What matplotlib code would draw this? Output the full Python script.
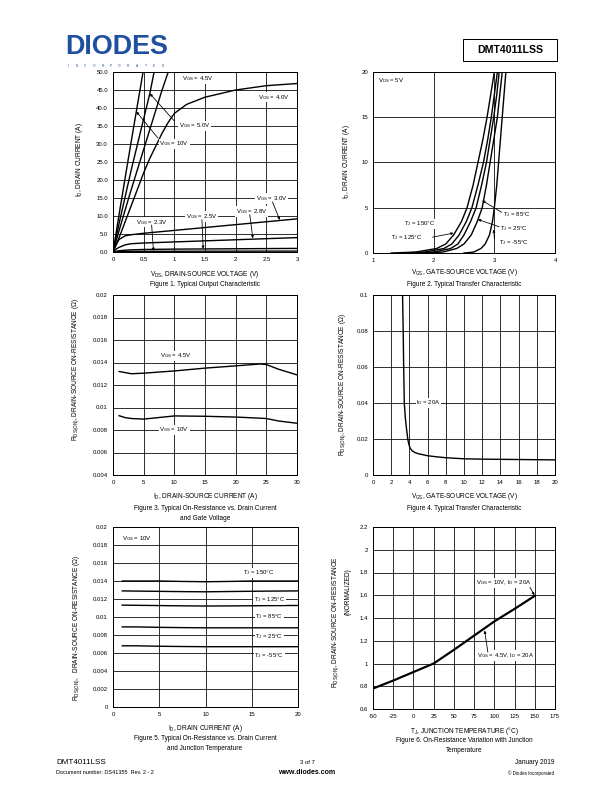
import numpy as np
import matplotlib
matplotlib.use('Agg')
from matplotlib import pyplot as plt

plt.rcParams['font.family'] = ['Liberation Sans', 'DejaVu Sans']
plt.rcParams['mathtext.fontset'] = 'custom'
plt.rcParams['mathtext.rm'] = 'Liberation Sans'
plt.rcParams['mathtext.default'] = 'regular'

# figure 1 - output characteristic (VDS in V, ID in A)
vds_10v = [0, 0.1, 0.2, 0.3, 0.4, 0.49]
id_10v = [0, 10.5, 20.8, 31, 41, 50]
vds_5v = [0, 0.1, 0.2, 0.3, 0.4, 0.5, 0.6, 0.67]
id_5v = [0, 8, 15.5, 23, 30, 37, 44, 50]
vds_45v = [0, 0.1, 0.2, 0.3, 0.4, 0.5, 0.6, 0.7, 0.8, 0.9]
id_45v = [0, 6, 11.8, 17.5, 23, 28.5, 34, 39.5, 45, 50]
vds_4v = [0, 0.1, 0.2, 0.3, 0.4, 0.5, 0.6, 0.7, 0.8, 0.9, 1.0, 1.2, 1.5, 2.0, 2.5, 3.0]
id_4v = [0, 4, 8.5, 13, 17.5, 22, 26, 29.5, 33, 36, 38.5, 41, 43, 45, 46.2, 46.8]
vds_low = [0, 0.05, 0.1, 0.2, 0.3, 0.5, 1.0, 1.5, 2.0, 2.5, 3.0]
id_3v = [0, 2, 3.5, 4.5, 4.8, 5.2, 6.0, 6.8, 7.6, 8.4, 9.2]
id_28v = [0, 0.8, 1.3, 2.0, 2.3, 2.5, 2.8, 3.1, 3.4, 3.7, 4.0]
id_25v = [0, 0.2, 0.35, 0.5, 0.6, 0.7, 0.8, 0.85, 0.9, 0.95, 1.0]
id_23v = [0, 0.05, 0.1, 0.15, 0.17, 0.19, 0.2, 0.22, 0.23, 0.24, 0.25]

# figure 2 - transfer characteristic, VGS read at fixed ID levels
id_levels = [0, 0.1, 0.5, 1, 2, 3.5, 5, 7.5, 10, 12.5, 15, 17.5, 20]
vgs_150 = [1.3, 1.7, 2.05, 2.2, 2.33, 2.46, 2.55, 2.65, 2.73, 2.81, 2.88, 2.94, 3.0]
vgs_125 = [1.45, 1.85, 2.17, 2.3, 2.42, 2.54, 2.63, 2.73, 2.82, 2.89, 2.95, 3.0, 3.05]
vgs_85 = [1.6, 2.0, 2.28, 2.4, 2.5, 2.61, 2.7, 2.79, 2.87, 2.93, 2.99, 3.04, 3.08]
vgs_25 = [1.8, 2.15, 2.38, 2.5, 2.62, 2.72, 2.8, 2.87, 2.93, 2.99, 3.05, 3.09, 3.13]
vgs_m55 = [2.5, 2.66, 2.78, 2.85, 2.92, 2.97, 3.0, 3.04, 3.07, 3.1, 3.13, 3.16, 3.19]

# figure 3 - RDS(on) vs ID
id3 = [1, 2, 3, 5, 10, 15, 20, 24, 25, 27, 30]
r3_45v = [0.0132, 0.0131, 0.0130, 0.01305, 0.01325, 0.0135, 0.0137, 0.01387, 0.01382, 0.0134, 0.0129]
r3_10v = [0.00927, 0.0091, 0.00902, 0.00897, 0.00925, 0.00922, 0.00915, 0.00905, 0.00902, 0.0088, 0.0086]

# figure 4 - RDS(on) vs VGS
vgs4 = [3.25, 3.28, 3.32, 3.37, 3.44, 3.55, 3.65, 3.75, 3.82, 3.9, 4.0, 4.1, 4.3, 4.6,
        5.0, 6, 7, 8, 10, 12, 14, 16, 18, 20]
r4 = [0.1, 0.09, 0.08, 0.06, 0.04, 0.032, 0.027, 0.023, 0.02, 0.018, 0.016, 0.0148,
      0.0135, 0.0125, 0.0118, 0.0107, 0.0101, 0.0096, 0.0090, 0.0088, 0.0087, 0.0086,
      0.0085, 0.0084]

# figure 5 - RDS(on) vs ID at several TJ
id5 = [1, 2.5, 5, 7.5, 10, 12.5, 15, 17.5, 20]
r5_150 = [0.0140, 0.0140, 0.0140, 0.01395, 0.01392, 0.01395, 0.0140, 0.0140, 0.0140]
r5_125 = [0.0129, 0.01288, 0.01285, 0.01282, 0.0128, 0.01283, 0.01286, 0.01288, 0.0129]
r5_85 = [0.01132, 0.0113, 0.01127, 0.01124, 0.01122, 0.01123, 0.01125, 0.01127, 0.01128]
r5_25 = [0.0089, 0.0089, 0.00885, 0.00882, 0.0088, 0.0088, 0.0088, 0.0088, 0.0088]
r5_m55 = [0.0068, 0.0068, 0.00675, 0.00672, 0.0067, 0.0067, 0.0067, 0.0067, 0.0067]

# figure 6 - normalized RDS(on) vs TJ
tj6 = [-50, -25, 0, 25, 50, 75, 100, 125, 150]
rn6 = [0.78, 0.85, 0.925, 1.0, 1.12, 1.245, 1.37, 1.48, 1.595]

W, H = 612, 792
fig = plt.figure(figsize=(8.5, 11), dpi=72)


def make_ax(x0, y0, x1, y1):
    return fig.add_axes([x0 / W, 1 - y1 / H, (x1 - x0) / W, (y1 - y0) / H])


def ftext(x, y, s, **kw):
    kw.setdefault('fontsize', 6.5)
    kw.setdefault('ha', 'center')
    kw.setdefault('va', 'center')
    fig.text(x / W, 1 - y / H, s, **kw)


def style(ax, xt, xl, yt, yl):
    ax.set_xticks(xt)
    ax.set_xticklabels(xl)
    ax.set_yticks(yt)
    ax.set_yticklabels(yl)
    ax.set_xlim(xt[0], xt[-1])
    ax.set_ylim(yt[0], yt[-1])
    ax.grid(True, color='k', lw=0.8)
    ax.set_axisbelow(True)
    ax.tick_params(length=0, labelsize=6, pad=5)
    for s in ax.spines.values():
        s.set_linewidth(1.0)


def lab(ax, x, y, s, ha='center'):
    ax.text(x, y, s, fontsize=6, ha=ha, va='center', zorder=5,
            bbox=dict(fc='white', ec='none', pad=0.8))


def arrow(ax, start, tip):
    ax.annotate('', xy=tip, xytext=start, zorder=6,
                arrowprops=dict(arrowstyle='-|>', color='k', lw=0.8,
                                mutation_scale=5, shrinkA=0, shrinkB=0))


# ---- figure 1
ax1 = make_ax(113, 72, 297, 252)
style(ax1, [0, 0.5, 1, 1.5, 2, 2.5, 3], ['0', '0.5', '1', '1.5', '2', '2.5', '3'],
      np.arange(0, 51, 5), ['%.1f' % v for v in np.arange(0, 51, 5)])
for xs, ys in [(vds_10v, id_10v), (vds_5v, id_5v), (vds_45v, id_45v), (vds_4v, id_4v),
               (vds_low, id_3v), (vds_low, id_28v), (vds_low, id_25v), (vds_low, id_23v)]:
    ax1.plot(xs, ys, color='k', lw=1.4, zorder=3)
lab(ax1, 1.38, 48.2, 'V$_{GS}$ = 4.5V')
lab(ax1, 2.62, 43, 'V$_{GS}$ = 4.0V')
lab(ax1, 1.33, 35, 'V$_{GS}$ = 5.0V')
lab(ax1, 1.0, 30, 'V$_{GS}$ = 10V')
lab(ax1, 2.58, 14.8, 'V$_{GS}$ = 3.0V')
lab(ax1, 2.26, 11.3, 'V$_{GS}$ = 2.8V')
lab(ax1, 1.45, 9.8, 'V$_{GS}$ = 2.5V')
lab(ax1, 0.63, 8.3, 'V$_{GS}$ = 2.3V')
arrow(ax1, (1.0, 36.4), (0.6, 44))
arrow(ax1, (0.73, 31.7), (0.38, 39))
arrow(ax1, (2.6, 13.9), (2.72, 8.9))
arrow(ax1, (2.23, 10.4), (2.28, 3.8))
arrow(ax1, (1.45, 9.0), (1.47, 0.9))
arrow(ax1, (0.63, 7.5), (0.66, 0.3))
ftext(79, 160, 'I$_D$, DRAIN CURRENT (A)', rotation=90)
ftext(205, 275, 'V$_{DS}$, DRAIN-SOURCE VOLTAGE (V)')
ftext(205, 285, 'Figure 1. Typical Output Characteristic')

# ---- figure 2
ax2 = make_ax(373, 72, 555, 253)
style(ax2, [1, 2, 3, 4], ['1', '2', '3', '4'], [0, 5, 10, 15, 20], ['0', '5', '10', '15', '20'])
for vs in [vgs_150, vgs_125, vgs_85, vgs_25, vgs_m55]:
    ax2.plot(vs, id_levels, color='k', lw=1.4, zorder=3)
ax2.text(1.08, 19.0, 'V$_{DS}$ = 5V', fontsize=6, ha='left', va='center')
lab(ax2, 1.77, 3.2, 'T$_J$ = 150°C')
lab(ax2, 1.55, 1.66, 'T$_J$ = 125°C')
lab(ax2, 3.38, 4.2, 'T$_J$ = 85°C')
lab(ax2, 3.32, 2.65, 'T$_J$ = 25°C')
lab(ax2, 3.32, 1.2, 'T$_J$ = -55°C')
arrow(ax2, (1.98, 1.75), (2.33, 2.2))
arrow(ax2, (3.12, 4.5), (2.8, 5.8))
arrow(ax2, (3.08, 2.9), (2.73, 3.7))
arrow(ax2, (3.0, 1.6), (2.99, 2.6))
ftext(347, 162, 'I$_D$, DRAIN CURRENT (A)', rotation=90)
ftext(464, 272, 'V$_{GS}$, GATE-SOURCE VOLTAGE (V)')
ftext(464, 284, 'Figure 2. Typical Transfer Characteristic')

# ---- figure 3
ax3 = make_ax(113, 295, 297, 475)
style(ax3, [0, 5, 10, 15, 20, 25, 30], ['0', '5', '10', '15', '20', '25', '30'],
      np.arange(0.004, 0.0201, 0.002),
      ['0.004', '0.006', '0.008', '0.01', '0.012', '0.014', '0.016', '0.018', '0.02'])
ax3.plot(id3, r3_45v, color='k', lw=1.4, zorder=3)
ax3.plot(id3, r3_10v, color='k', lw=1.4, zorder=3)
lab(ax3, 10.2, 0.0146, 'V$_{GS}$ = 4.5V')
lab(ax3, 10.0, 0.008, 'V$_{GS}$ = 10V')
ftext(76, 370, 'R$_{DS(ON)}$, DRAIN-SOURCE ON-RESISTANCE (Ω)', rotation=90)
ftext(205, 497, 'I$_D$, DRAIN-SOURCE CURRENT (A)')
ftext(205, 508, 'Figure 3. Typical On-Resistance vs. Drain Current')
ftext(205, 518, 'and Gate Voltage')

# ---- figure 4
ax4 = make_ax(373, 295, 555, 475)
style(ax4, np.arange(0, 21, 2), [str(v) for v in range(0, 21, 2)],
      np.arange(0, 0.101, 0.02), ['0', '0.02', '0.04', '0.06', '0.08', '0.1'])
ax4.plot(vgs4, r4, color='k', lw=1.4, zorder=3)
lab(ax4, 6.1, 0.04, 'I$_D$ = 20A')
ftext(343, 385, 'R$_{DS(ON)}$, DRAIN-SOURCE ON-RESISTANCE (Ω)', rotation=90)
ftext(464, 497, 'V$_{GS}$, GATE-SOURCE VOLTAGE (V)')
ftext(464, 508, 'Figure 4. Typical Transfer Characteristic')

# ---- figure 5
ax5 = make_ax(113, 527, 298, 707)
style(ax5, [0, 5, 10, 15, 20], ['0', '5', '10', '15', '20'],
      np.arange(0, 0.0201, 0.002),
      ['0', '0.002', '0.004', '0.006', '0.008', '0.01', '0.012', '0.014', '0.016', '0.018', '0.02'])
for rs in [r5_150, r5_125, r5_85, r5_25, r5_m55]:
    ax5.plot(id5, rs, color='k', lw=1.4, zorder=3)
ax5.text(1.0, 0.0187, 'V$_{GS}$ = 10V', fontsize=6, ha='left', va='center', zorder=5,
         bbox=dict(fc='white', ec='none', pad=0.8))
lab(ax5, 15.7, 0.0149, 'T$_J$ = 150°C')
lab(ax5, 16.95, 0.0119, 'T$_J$ = 125°C')
lab(ax5, 16.9, 0.0100, 'T$_J$ = 85°C')
lab(ax5, 16.9, 0.0078, 'T$_J$ = 25°C')
lab(ax5, 16.9, 0.0057, 'T$_J$ = -55°C')
ftext(77, 628, 'R$_{DS(ON)}$,   DRAIN-SOURCE ON-RESISTANCE (Ω)', rotation=90)
ftext(205, 728, 'I$_D$, DRAIN CURRENT (A)')
ftext(205, 739, 'Figure 5. Typical On-Resistance vs. Drain Current')
ftext(205, 749, 'and Junction Temperature')

# ---- figure 6
ax6 = make_ax(373, 527, 555, 709)
style(ax6, np.arange(-50, 176, 25), [str(v) for v in range(-50, 176, 25)],
      np.arange(0.6, 2.21, 0.2), ['0.6', '0.8', '1', '1.2', '1.4', '1.6', '1.8', '2', '2.2'])
ax6.plot(tj6, rn6, color='k', lw=2.2, zorder=3)
lab(ax6, 112, 1.71, 'V$_{GS}$ = 10V, I$_D$ = 20A')
lab(ax6, 114, 1.07, 'V$_{GS}$ = 4.5V, I$_D$ = 20A')
arrow(ax6, (144, 1.67), (149.5, 1.6))
arrow(ax6, (92, 1.1), (88, 1.29))
ftext(336, 622, 'R$_{DS(ON)}$, DRAIN-SOURCE ON-RESISTANCE', rotation=90)
ftext(348, 592, '(NORMALIZED)', rotation=90)
ftext(464, 731, 'T$_J$, JUNCTION TEMPERATURE (°C)')
ftext(464, 741, 'Figure 6. On-Resistance Variation with Junction')
ftext(464, 750, 'Temperature')

# ---- header
ftext(65, 47, 'DIODES', fontsize=27, fontweight='bold', color='#1f4f9e', ha='left')
for i, ch in enumerate('INCORPORATED'):
    ftext(68 + i * 8.6, 66, ch, fontsize=3.2, color='#1f4f9e')
fig.patches.append(plt.Rectangle((463 / W, 1 - 61 / H), 94 / W, 22 / H, fill=False,
                                 ec='k', lw=1.0, transform=fig.transFigure))
ftext(510, 50, 'DMT4011LSS', fontsize=10.5, fontweight='bold')

# ---- footer
ftext(56, 763, 'DMT4011LSS', fontsize=8, ha='left')
ftext(56, 773, 'Document number: DS41355  Rev. 2 - 2', fontsize=5.5, ha='left')
ftext(307, 763, '3 of 7', fontsize=6)
ftext(307, 773, 'www.diodes.com', fontsize=7, fontweight='bold')
ftext(554, 763, 'January 2019', fontsize=6.5, ha='right')
ftext(554, 773, '© Diodes Incorporated', fontsize=4.5, ha='right')

fig.savefig('out.png', dpi=72)
